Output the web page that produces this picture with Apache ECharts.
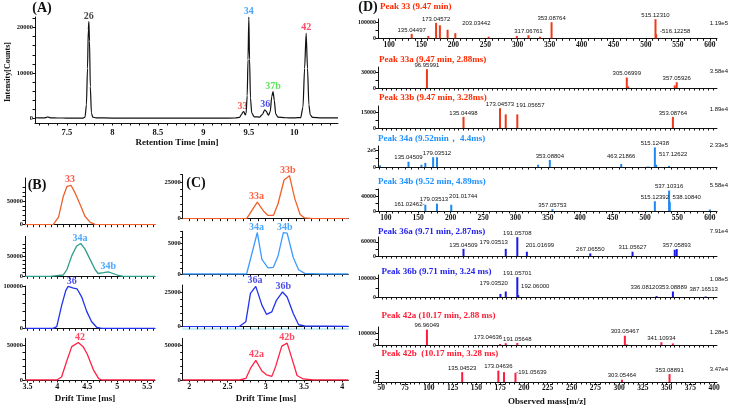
<!DOCTYPE html>
<html><head><meta charset="utf-8">
<script src="https://cdn.jsdelivr.net/npm/echarts@6/dist/echarts.min.js"></script>
<style>html,body{margin:0;padding:0;background:#fff}#c{width:732px;height:408px}</style>
</head><body><div id="c"></div><script>
// ---------------- DATA ----------------
// (A) total ion chromatogram: [retention time (min), intensity]
const chromA = [[7.15,150],[7.20,120],[7.26,130],[7.29,320],[7.32,140],[7.40,100],[7.50,90],[7.60,80],[7.68,90],[7.70,300],[7.715,3000],[7.727,11000],[7.736,19500],[7.742,21300],[7.749,17000],[7.758,7000],[7.77,1200],[7.785,300],[7.82,120],[8.0,90],[8.2,70],[8.4,80],[8.6,60],[8.8,70],[9.0,60],[9.2,80],[9.35,100],[9.40,250],[9.42,900],[9.435,1400],[9.445,1500],[9.46,800],[9.47,1100],[9.482,5000],[9.491,13000],[9.50,22300],[9.508,13000],[9.518,4500],[9.532,1200],[9.56,350],[9.62,300],[9.65,900],[9.675,1900],[9.69,1600],[9.715,700],[9.735,1500],[9.752,4800],[9.766,5900],[9.78,4000],[9.795,1000],[9.82,300],[9.9,150],[10.0,120],[10.07,200],[10.095,2500],[10.113,11000],[10.13,18700],[10.145,11000],[10.16,3000],[10.175,800],[10.2,250],[10.3,130],[10.48,110]];
const peakLabelsA = [[7.742,21300,'26'],[9.43,1500,'33'],[9.50,22300,'34'],[9.68,1900,'36'],[9.766,5900,'37b'],[10.13,18700,'42']];

// (B) drift-time profiles: [drift time (ms), intensity]
const driftB33 = [[3.46,0],[3.93,0],[3.96,2000],[4.02,16000],[4.10,61000],[4.16,82000],[4.23,84000],[4.30,67000],[4.38,43000],[4.46,18000],[4.55,5000],[4.63,500],[4.75,0],[5.63,0]];
const driftB34 = [[3.46,0],[3.88,0],[4.10,3300],[4.16,17000],[4.24,51000],[4.32,75000],[4.39,82000],[4.46,68500],[4.55,41000],[4.63,17000],[4.68,7000],[4.77,9000],[4.85,11000],[4.93,7000],[5.02,2000],[5.10,0],[5.63,0]];
const driftB36 = [[3.46,0],[3.93,0],[3.99,4000],[4.07,53000],[4.14,89000],[4.18,99000],[4.27,95000],[4.33,93000],[4.41,73000],[4.49,40000],[4.57,16000],[4.66,2000],[4.74,0],[5.63,0]];
const driftB42 = [[3.46,0],[3.99,0],[4.07,4300],[4.16,28000],[4.24,48000],[4.35,54000],[4.43,48000],[4.50,37000],[4.60,15000],[4.69,2000],[4.74,0],[5.63,0]];
const peakLabelsB = [[[4.21,85000,'33']],[[4.38,82000,'34a'],[4.85,11000,'34b']],[[4.24,99000,'36']],[[4.38,54000,'42']]];

// (C) drift-time profiles after separation
const driftC33 = [[1.914,0],[2.75,0],[2.89,11300],[2.97,5300],[3.03,2200],[3.10,2200],[3.16,10000],[3.24,26400],[3.31,29300],[3.38,13700],[3.45,2900],[3.51,500],[3.62,0],[4.08,0]];
const driftC34 = [[1.914,0],[2.75,0],[2.89,6800],[2.95,2400],[3.03,1000],[3.10,1100],[3.16,2900],[3.23,6800],[3.28,6700],[3.36,2700],[3.43,700],[3.51,100],[3.71,0],[4.08,0]];
const driftC36 = [[1.914,0],[2.65,0],[2.74,3600],[2.80,24000],[2.87,29000],[2.95,15500],[3.01,8900],[3.08,10700],[3.14,19000],[3.22,25000],[3.28,21400],[3.36,9500],[3.43,1400],[3.51,500],[4.08,300]];
const driftC42 = [[1.914,0],[2.66,0],[2.74,2200],[2.80,16600],[2.87,28300],[2.95,13000],[3.01,7400],[3.08,5200],[3.13,19600],[3.21,48700],[3.28,53100],[3.35,28300],[3.41,6500],[3.49,1500],[3.62,0],[4.08,0]];
const peakLabelsC = [[[2.88,11300,'33a'],[3.29,29300,'33b']],[[2.88,6800,'34a'],[3.25,6800,'34b']],[[2.86,29000,'36a'],[3.23,25000,'36b']],[[2.88,28300,'42a'],[3.28,53100,'42b']]];

// (D) mass spectra: [m/z, intensity]
const spec33  = [[135.04497,27600],[161,14700],[173.04572,96000],[179,81000],[191,53000],[203.03442,32000],[255,10000],[299,14700],[317.06761,19000],[335,10000],[353.08764,100000],[515.12310,119000],[516.12258,25000]];
const spec33a = [[96.95991,35800],[305.06999,20000],[306.5,3000],[355,5000],[357.05926,11000]];
const spec33b = [[135.04498,10600],[173.04573,18900],[179,13000],[191.05657,13000],[353.08764,10600]];
const spec34a = [[91,20000],[135.04509,63000],[155,27000],[161,49000],[173.04,116000],[179.03512,116000],[335,27000],[353.08804,84000],[463.21866,36000],[503,4000],[506,4000],[515.12438,233000],[517.12622,27000],[537,13000]];
const spec34b = [[161.02462,17000],[179.03513,20000],[201.01744,17000],[357.05753,5000],[515.12392,26600],[537.10316,55800],[538.10840,25000],[600,4000]];
const spec36a = [[135.04509,30000],[179.03513,30000],[191.05708,79100],[201.01699,18000],[267.06550,11000],[311.05627,18000],[355,26000],[357.05893,29000]];
const spec36b = [[173.5,16700],[179.03520,30000],[191.05701,108000],[192.06000,10000],[336.08120,5000],[353.08889,30000],[387.16513,3000]];
const spec42a = [[96.96049,128000],[173.04636,8000],[179,15000],[191.05648,17000],[303.05467,77000],[305,5000],[341.10934,23000],[353,13000]];
const spec42b = [[135.04523,30000],[173.04636,34700],[179,30000],[191.05639,28000],[303.05464,7000],[353.08891,24000]];
const labels33  = ['135.04497','173.04572','203.03442','317.06761','353.08764','515.12310','516.12258'];
const labels33a = ['96.95991','305.06999','357.05926'];
const labels33b = ['135.04498','173.04573','191.05657','353.08764'];
const labels34a = ['135.04509','179.03512','353.08804','463.21866','515.12438','517.12622'];
const labels34b = ['161.02462','179.03513','201.01744','357.05753','515.12392','537.10316','538.10840'];
const labels36a = ['135.04509','179.03513','191.05708','201.01699','267.06550','311.05627','357.05893'];
const labels36b = ['179.03520','191.05701','192.06000','336.08120','353.08889','387.16513'];
const labels42a = ['96.96049','173.04636','191.05648','303.05467','341.10934'];
const labels42b = ['135.04523','173.04636','191.05639','303.05464','353.08891'];
const specTitles = ['Peak 33 (9.47 min)','Peak 33a (9.47 min, 2.88ms)','Peak 33b (9.47 min, 3.28ms)','Peak 34a (9.52min\uFF0C 4.4ms)','Peak 34b (9.52 min, 4.89ms)','Peak 36a (9.71 min, 2.87ms)','Peak 36b (9.71 min, 3.24 ms)','Peak 42a (10.17 min, 2.88 ms)','Peak 42b  (10.17 min, 3.28 ms)'];

// ---------------- STYLE / LAYOUT ----------------
const SERIF = '"Liberation Serif","Times New Roman",serif';
const SANS = '"Liberation Sans",Arial,sans-serif';
const COL = {c33:'#f0602a', c34B:'#2e9e8a', c34C:'#3d9bff', c36:'#2233ee', c42:'#ff2244',
  s33:'#ee3a1a', s34:'#1e88f0', s36:'#1a1aee', s42:'#ff1a40',
  t33:'#ff2a00', t34:'#1e90ff', t36:'#2222ee', t42:'#ff1a33'};
const labelColor = {'26':'#111','33':'#ff2a1a','34':'#1e90ff','36':'#2020e8','37b':'#33dd33','42':'#ff1a3c',
  '34a':'#1e90ff','34b':'#1e90ff','33a':'#ff3a10','33b':'#ff3a10','36a':'#2020e8','36b':'#2020e8','42a':'#ff1a3c','42b':'#ff1a3c'};

function range(a,b,s){const o=[];for(let v=a;v<=b+1e-9;v+=s)o.push(+v.toFixed(6));return o;}

const grids=[], xAxes=[], yAxes=[], series=[], graphics=[], extraAxes=[];
function addPanel(p){
  const gi=grids.length;
  grids.push({left:p.left,top:p.top,width:p.width,height:p.height,containLabel:false,outerBoundsMode:'none'});
  xAxes.push({gridIndex:gi,type:'value',min:p.xmin,max:p.xmax,splitLine:{show:false},
    axisLine:{show:true,onZero:false,lineStyle:{color:'#111',width:1}},
    axisTick:{show:true,length:p.xTickLen||2.5,customValues:p.xTicks,lineStyle:{color:'#111'}},
    axisLabel:{show:!!p.xLabels,customValues:p.xLabels||[],formatter:v=>String(v),fontFamily:SERIF,fontWeight:'bold',fontSize:p.xFont||8,color:'#111',margin:p.xMargin||3}});
  yAxes.push({gridIndex:gi,type:'value',min:p.ymin||0,max:p.ymax,splitLine:{show:false},
    axisLine:{show:true,onZero:false,lineStyle:{color:'#111'}},
    axisTick:{show:true,length:2.5,customValues:p.yTicks,lineStyle:{color:'#111'}},
    axisLabel:{show:true,customValues:p.yLabels,formatter:p.yFmt||(v=>String(v)),fontFamily:SERIF,fontWeight:'bold',fontSize:p.yFont||6,color:'#111',margin:2}});
  return gi;
}
function addLine(gi,data,color,width,smooth){
  series.push({type:'line',xAxisIndex:gi,yAxisIndex:gi,data:data,symbol:'none',showSymbol:false,
    smooth:smooth||false,smoothMonotone:'x',lineStyle:{color:color,width:width||1.3},animation:false,silent:true});
}
function addPeakLabels(gi,arr,size){
  series.push({type:'scatter',xAxisIndex:gi,yAxisIndex:gi,symbolSize:1,itemStyle:{color:'rgba(0,0,0,0)'},silent:true,animation:false,
    data:arr.map(d=>({value:[d[0],d[1]],label:{show:true,formatter:d[2],color:labelColor[d[2]]}})),
    label:{position:'top',distance:0,fontFamily:SERIF,fontWeight:'bold',fontSize:size||10}});
}
function text(str,x,y,opt){
  opt=opt||{};
  graphics.push({type:'text',x:x,y:y,rotation:opt.rot||0,silent:true,
    style:{text:str,fill:opt.color||'#111',font:(opt.weight||'bold')+' '+(opt.size||9)+'px '+(opt.family||SERIF),
      align:opt.align||'center',verticalAlign:'middle'}});
}

// ---- Panel A ----
const gA = addPanel({left:35,top:17,width:303,height:106,xmin:7.15,xmax:10.48,ymin:-1000,ymax:22300,
  xLabels:[7.5,8,8.5,9,9.5,10],xTicks:range(7.2,10.4,0.1),xFont:8.5,xMargin:5,
  yLabels:[0,10000,20000],yTicks:range(0,22000,2000),yFont:6.5});
addLine(gA,chromA,'#111',1.2,0.25);
addPeakLabels(gA,peakLabelsA,10);
text('(A)',42,8,{size:14});
text('Intensity[Counts]',8,72,{size:8,rot:Math.PI/2});
text('Retention Time [min]',177,143,{size:9});

// ---- Panels B and C ----
const bLay=[{top:178,h:46.7,ymax:85000,lab:50000},{top:236.3,h:40,ymax:82300,lab:50000},{top:286,h:42.3,ymax:103000,lab:100000},{top:338.3,h:41.7,ymax:54400,lab:50000}];
const cLay=[{top:174.7,h:44,ymax:31700,lab:25000},{top:231.3,h:42.7,ymax:7100,lab:5000},{top:285,h:41.7,ymax:29800,lab:25000},{top:338.3,h:41.7,ymax:54400,lab:50000}];
const bData=[driftB33,driftB34,driftB36,driftB42], bCol=[COL.c33,COL.c34B,COL.c36,COL.c42];
const cData=[driftC33,driftC34,driftC36,driftC42], cCol=[COL.c33,COL.c34C,COL.c36,COL.c42];
for(let i=0;i<4;i++){
  const L=bLay[i], last=i===3;
  const g=addPanel({left:25,top:L.top,width:130,height:L.h,xmin:3.46,xmax:5.63,
    xLabels:last?[3.5,4,4.5,5,5.5]:null,xTicks:range(3.5,5.6,0.1),xFont:8,xMargin:3,
    yLabels:[0,L.lab],yTicks:range(0,L.ymax,L.lab/5),yFont:6.5});
  addLine(g,bData[i],bCol[i],1.3);
  addPeakLabels(g,peakLabelsB[i],10);
}
for(let i=0;i<4;i++){
  const L=cLay[i], last=i===3;
  const g=addPanel({left:182.7,top:L.top,width:165.6,height:L.h,xmin:1.914,xmax:4.08,
    xLabels:last?[2,2.5,3,3.5,4]:null,xTicks:range(2,4,0.1),xFont:8,xMargin:3,
    yLabels:[0,L.lab],yTicks:range(0,L.ymax,L.lab/5),yFont:6.5});
  addLine(g,cData[i],cCol[i],1.3);
  addPeakLabels(g,peakLabelsC[i],10);
  if(i===2){
    extraAxes.push({gridIndex:g,type:'value',min:1.914,max:4.08,position:'bottom',offset:2.5,splitLine:{show:false},
      axisLine:{show:true,onZero:false,lineStyle:{color:'#b5e6ee',width:1.5}},axisTick:{show:false},axisLabel:{show:false}});
  }
}
text('(B)',37,185,{size:14});
text('(C)',196,183,{size:14});
text('Drift Time [ms]',85,398.5,{size:9});
text('Drift Time [ms]',266,398.5,{size:9});

// ---- Panel D ----
const labelTweak = {
  '33|203.03442':{dx:21,dy:-6}, '33|516.12258':{dx:19,dy:1,pre:'-'},
  '33b|191.05657':{dx:13,dy:-5},
  '34a|463.21866':{dx:0,dy:-4}, '34a|517.12622':{dx:17,dy:-6},
  '34b|161.02462':{dx:-16,dy:4,post:'-'}, '34b|179.03513':{dx:-3,dy:0}, '34b|201.01744':{dx:12,dy:-4}, '34b|538.10840':{dx:17,dy:0},
  '36a|179.03513':{dx:-12,dy:-3}, '36a|201.01699':{dx:13,dy:-2},
  '36b|179.03520':{dx:-12,dy:-4}, '36b|192.06000':{dx:17,dy:-5}, '36b|336.08120':{dx:-12,dy:-5}, '36b|387.16513':{dx:-2,dy:-3},
  '42a|173.04636':{dx:-12,dy:-3},
  '42b|191.05639':{dx:16,dy:4,pre:'-'}
};
const dPanels=[
  {id:'33', data:spec33, labs:labels33, top:19, base:38.3, ymax:124000, yLab:100000, xr:[82.5,611], wide:true, xl:true, bar:COL.s33, tc:COL.t33, ty:7, tx:380, my:23},
  {id:'33a',data:spec33a,labs:labels33a,top:67, base:88, ymax:37000, yLab:30000, xr:[46,399], bar:COL.s33, tc:COL.t33, ty:59.5, tx:379, my:71},
  {id:'33b',data:spec33b,labs:labels33b,top:106, base:128, ymax:20600, yLab:15000, xr:[46,399], bar:COL.s33, tc:COL.t33, ty:97.5, tx:379, my:109},
  {id:'34a',data:spec34a,labs:labels34a,top:146, base:167, ymax:280000, yLab:200000, xr:[88,611], wide:true, bar:COL.s34, tc:COL.t34, ty:139, tx:378, my:145},
  {id:'34b',data:spec34b,labs:labels34b,top:189, base:211, ymax:62900, yLab:40000, xr:[88,611], wide:true, xl:true, bar:COL.s34, tc:COL.t34, ty:181.5, tx:378, my:185},
  {id:'36a',data:spec36a,labs:labels36a,top:237, base:256, ymax:81400, yLab:60000, xr:[46,399], bar:COL.s36, tc:COL.t36, ty:231.5, tx:378, my:231.5},
  {id:'36b',data:spec36b,labs:labels36b,top:275, base:297, ymax:122000, yLab:100000, xr:[46,399], bar:COL.s36, tc:COL.t36, ty:271.5, tx:381.5, my:279},
  {id:'42a',data:spec42a,labs:labels42a,top:327, base:345, ymax:138000, yLab:100000, xr:[46,399], bar:COL.s42, tc:COL.t42, ty:316, tx:381.5, my:332},
  {id:'42b',data:spec42b,labs:labels42b,top:370.5, base:382, ymax:40000, yLab:null, xr:[46.5,403], xl:true, bar:COL.s42, tc:COL.t42, ty:354, tx:381.5, my:369}
];
dPanels.forEach((P,i)=>{
  const xl = P.xl ? (P.wide ? range(100,600,50) : range(50,400,25)) : null;
  const xt = P.wide ? range(90,610,10) : range(50,400,5);
  const g=addPanel({left:378,top:P.top,width:339,height:P.base-P.top,xmin:P.xr[0],xmax:P.xr[1],
    xLabels:xl,xTicks:xt,xFont:7.5,xMargin:P.wide?3:2,
    yLabels:P.yLab?[0,P.yLab]:[0],yTicks:range(0,P.ymax,(P.yLab||20000)/2),yFont:6,
    yFmt:v=>v===200000?'2e5':String(v)});
  series.push({type:'bar',xAxisIndex:g,yAxisIndex:g,barWidth:2,barGap:'-100%',animation:false,silent:true,
    itemStyle:{color:P.bar},
    label:{position:'top',distance:1,fontFamily:SANS,fontSize:6,color:'#111'},
    data:P.data.map(d=>{
      const key=d[0].toFixed(5);
      const has=P.labs.indexOf(key)>=0;
      const tw=labelTweak[P.id+'|'+key]||{};
      return {value:[d[0],d[1]],label:has?{show:true,formatter:(tw.pre||'')+key+(tw.post||''),offset:[tw.dx||0,tw.dy||0]}:{show:false}};
    })});
  text(specTitles[i],P.tx,P.ty,{size:9,color:P.tc,align:'left'});
  const mx=Math.max.apply(null,P.data.map(d=>d[1]));
  text(mx.toExponential(2).replace('e+','e'),728,P.my,{size:6,family:SANS,weight:'normal',align:'right'});
});
text('(D)',368,7.5,{size:14});
text('Observed mass[m/z]',547,402,{size:9});

const chart=echarts.init(document.getElementById('c'),null,{renderer:'canvas'});
chart.setOption({animation:false,backgroundColor:'#fff',grid:grids,xAxis:xAxes.concat(extraAxes),yAxis:yAxes,series:series,graphic:graphics});
</script></body></html>
